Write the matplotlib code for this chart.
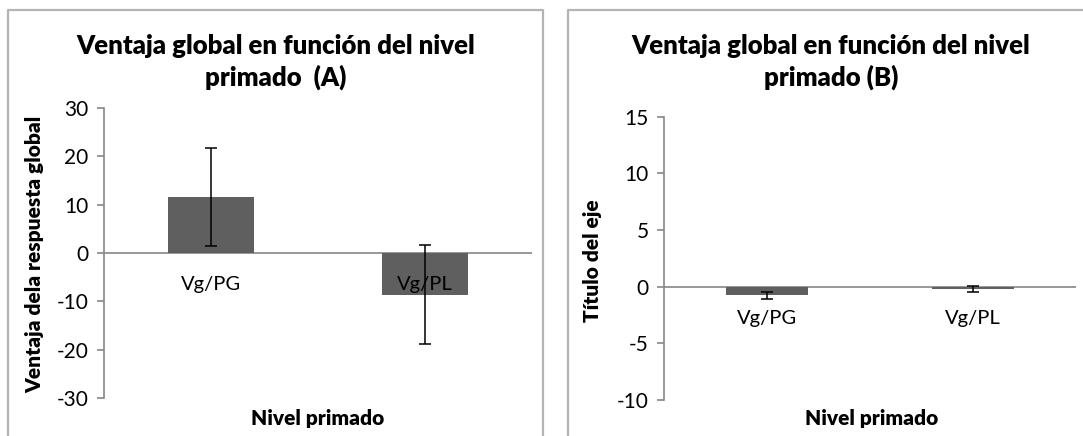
import matplotlib
matplotlib.use("Agg")
import matplotlib.pyplot as plt
from matplotlib.lines import Line2D
from matplotlib.transforms import offset_copy

plt.rcParams['font.family'] = ['Lato', 'DejaVu Sans']

categories = ['Vg/PG', 'Vg/PL']
values_a = [11.6, -8.6]
err_a = [10.1, 10.3]
values_b = [-0.75, -0.2]
err_b = [0.3, 0.25]
yticks_a = [30, 20, 10, 0, -10, -20, -30]
yticks_b = [15, 10, 5, 0, -5, -10]

title_a = "Ventaja global en función del nivel\nprimado  (A)"
title_b = "Ventaja global en función del nivel\nprimado (B)"
ylabel_a = "Ventaja dela respuesta global"
ylabel_b = "Título del eje"
xlabel = "Nivel primado"

W, H = 1083, 436
fig = plt.figure(figsize=(W / 100, H / 100), dpi=100)

axis_gray = '#868686'
bar_color = '#5f5f5f'
border_gray = '#b4b4b4'


def fx(px):
    return px / W


def fy(py):
    return 1 - py / H


# panel borders
fig.add_artist(Line2D([fx(8), fx(8), fx(543), fx(543)], [0, fy(10), fy(10), 0],
                      color=border_gray, lw=1.6, transform=fig.transFigure))
fig.add_artist(Line2D([fx(568), fx(568), 1], [0, fy(10), fy(10)],
                      color=border_gray, lw=1.6, transform=fig.transFigure))


def make_panel(rect, values, errs, yticks, ylim):
    ax = fig.add_axes(rect)
    x = list(range(len(categories)))
    ax.bar(x, values, width=0.4, color=bar_color, zorder=2)
    ax.errorbar(x, values, yerr=errs, fmt='none', ecolor='black', elinewidth=1.1,
                capsize=4, capthick=1.1, zorder=3)
    ax.axhline(0, color=axis_gray, lw=1.2, zorder=1)
    ax.set_xlim(-0.5, len(categories) - 0.5)
    ax.set_ylim(*ylim)
    ax.set_yticks(yticks)
    ax.set_yticklabels([str(t) for t in yticks])
    ax.set_xticks([])
    for s in ['top', 'right', 'bottom']:
        ax.spines[s].set_visible(False)
    ax.spines['left'].set_color(axis_gray)
    ax.spines['left'].set_linewidth(1.2)
    ax.tick_params(axis='y', direction='out', length=5, width=1.2, color=axis_gray,
                   labelsize=15, pad=6, labelcolor='black')
    ax.patch.set_alpha(0)
    trans = offset_copy(ax.transData, fig=fig, x=0, y=-23, units='points')
    for xi, lab in zip(x, categories):
        ax.text(xi, 0, lab, transform=trans, ha='center', va='center', fontsize=14.5,
                zorder=4)
    return ax


ax_a = make_panel([fx(104), fy(398), fx(532) - fx(104), fy(108) - fy(398)],
                  values_a, err_a, yticks_a, (-30, 30))
ax_b = make_panel([fx(664), fy(400), fx(1076) - fx(664), fy(116.7) - fy(400)],
                  values_b, err_b, yticks_b, (-10, 15))

fig.text(fx(276), fy(62), title_a, ha='center', va='center', fontsize=18.5,
         fontweight='heavy', linespacing=1.35)
fig.text(fx(831), fy(62), title_b, ha='center', va='center', fontsize=18.5,
         fontweight='heavy', linespacing=1.35)

fig.text(fx(35), fy(254), ylabel_a, ha='center', va='center', rotation=90,
         fontsize=15, fontweight='heavy')
fig.text(fx(593), fy(261), ylabel_b, ha='center', va='center', rotation=90,
         fontsize=15, fontweight='heavy')

fig.text(fx(318), fy(418), xlabel, ha='center', va='center', fontsize=15,
         fontweight='heavy')
fig.text(fx(872), fy(418), xlabel, ha='center', va='center', fontsize=15,
         fontweight='heavy')

fig.savefig('out.png', dpi=100)
